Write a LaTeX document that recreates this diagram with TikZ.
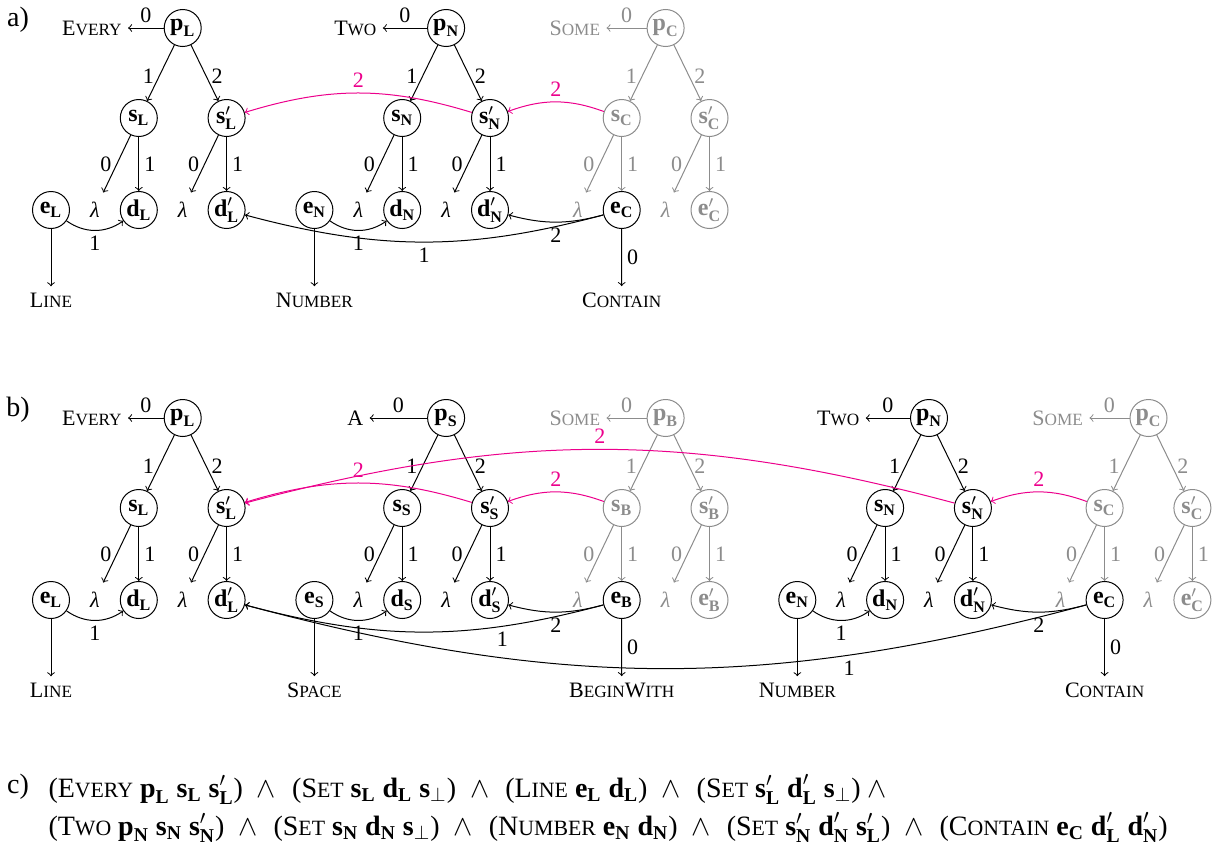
\documentclass[tikz,border=0pt]{standalone}
\usepackage{amsmath}
\usepackage{fontspec}
\setmainfont{Liberation Serif}
\definecolor{gr}{RGB}{140,140,140}
\definecolor{pk}{RGB}{236,0,140}
\newcommand\fsz{\fontsize{11}{13}\selectfont}
\newcommand\nsz{\fontsize{12}{14}\selectfont}
\newcommand\ffsz{\fontsize{14}{16}\selectfont}
\newcommand\sck[2]{#1{\fontsize{8.6}{10}\selectfont #2}}
\newcommand\scf[2]{#1{\fontsize{10.9}{12}\selectfont #2}}
\newcommand\bv[2]{$\text{\bfseries #1}_{\text{\bfseries #2}}$}
\newcommand\bvp[2]{$\text{\bfseries #1}'_{\text{\bfseries #2}}$}
\newcommand\bperp{$\text{\bfseries s}_{\perp}$}
\newcommand\lam{{\itshape λ}}
\newcommand\G{43.9}
\newcommand\andsym{\hspace{7pt}$\wedge$\hspace{8pt}}
% #1 id, #2 cx, #3 top y, #4 colour, #5 quantifier, #6 subscript, #7 leaf letter, #8 first leaf colour
\newcommand\qtree[8]{%
  \node[vnode,#4] (p#1) at (#2,#3) {\bv{p}{#6}};
  \node[txt,#4] (q#1) at ({#2-2*\G-3},#3) {#5};
  \node[vnode,#4] (s#1) at ({#2-\G},{#3+90}) {\bv{s}{#6}};
  \node[vnode,#4] (t#1) at ({#2+\G},{#3+90}) {\bvp{s}{#6}};
  \node[lam,#4] (la#1) at ({#2-2*\G},{#3+182}) {\lam};
  \node[lam,#4] (lb#1) at (#2,{#3+182}) {\lam};
  \node[vnode,#8] (d#1) at ({#2-\G},{#3+182}) {\bv{#7}{#6}};
  \node[vnode,#4] (f#1) at ({#2+\G},{#3+182}) {\bvp{#7}{#6}};
  \begin{scope}[#4]
    \draw[->] (p#1) -- node[lbl,above]{0} (q#1);
    \draw[->] (p#1) -- node[lbl,left,pos=.55]{1} (s#1);
    \draw[->] (p#1) -- node[lbl,right,pos=.55]{2} (t#1);
    \draw[->] (s#1) -- node[lbl,left]{0} (la#1);
    \draw[->] (s#1) -- node[lbl,right]{1} (d#1);
    \draw[->] (t#1) -- node[lbl,left]{0} (lb#1);
    \draw[->] (t#1) -- node[lbl,right]{1} (f#1);
  \end{scope}
}
\begin{document}
\begin{tikzpicture}[x=0.5pt, y=-0.5pt, >=to, line width=0.5pt,
  every node/.style={font=\fsz},
  vnode/.style={circle, draw, minimum size=18.5pt, inner sep=0pt, font=\nsz},
  lam/.style={minimum height=17pt, minimum width=10pt, inner sep=0pt},
  txt/.style={inner sep=3pt},
  lbl/.style={inner sep=2.5pt},
  part/.style={inner sep=0pt, font=\ffsz},
  fml/.style={inner sep=0pt, anchor=base west, font=\ffsz}]
\useasboundingbox (0,0) rectangle (1222,857);

% ---------------- a)
\node[part] (la) at (18,20) {a)};
\qtree{aL}{182.7}{28}{black}{\sck{E}{VERY}}{L}{d}{black}
\qtree{aN}{446.1}{28}{black}{\sck{T}{WO}}{N}{d}{black}
\qtree{aC}{665.6}{28}{gr}{\sck{S}{OME}}{C}{e}{black}
\node[vnode] (eaL) at (51,210) {\bv{e}{L}};
\node[vnode] (eaN) at (314.4,210) {\bv{e}{N}};
\node[txt] (waL) at (51,300) {\sck{L}{INE}};
\node[txt] (waN) at (314.4,300) {\sck{N}{UMBER}};
\node[txt] (waC) at (621.7,300) {\sck{C}{ONTAIN}};
\draw[->] (eaL) -- (waL);
\draw[->] (eaN) -- (waN);
\draw[->] (daC) -- node[lbl,right]{0} (waC);
\draw[->] (eaL) to[bend right=35] node[lbl,below]{1} (daL);
\draw[->] (eaN) to[bend right=35] node[lbl,below]{1} (daN);
\draw[->] (daC) to[bend left=15] node[lbl,below]{2} (faN);
\draw[->] (daC) to[bend left=15] node[lbl,below]{1} (faL);
\draw[->,pk] (saC) to[bend right=20] node[lbl,above]{2} (taN);
\draw[->,pk] (taN) to[bend right=17] node[lbl,above]{2} (taL);

% ---------------- b)
\node[part] (lb) at (18,410) {b)};
\qtree{bL}{182.7}{418}{black}{\sck{E}{VERY}}{L}{d}{black}
\qtree{bS}{446.1}{418}{black}{A}{S}{d}{black}
\qtree{bB}{665.6}{418}{gr}{\sck{S}{OME}}{B}{e}{black}
\qtree{bN}{929}{418}{black}{\sck{T}{WO}}{N}{d}{black}
\qtree{bC}{1148.5}{418}{gr}{\sck{S}{OME}}{C}{e}{black}
\node[vnode] (ebL) at (51,600) {\bv{e}{L}};
\node[vnode] (ebS) at (314.4,600) {\bv{e}{S}};
\node[vnode] (ebN) at (797.3,600) {\bv{e}{N}};
\node[txt] (wbL) at (51,690) {\sck{L}{INE}};
\node[txt] (wbS) at (314.4,690) {\sck{S}{PACE}};
\node[txt] (wbB) at (621.7,690) {\sck{B}{EGIN}\sck{W}{ITH}};
\node[txt] (wbN) at (797.3,690) {\sck{N}{UMBER}};
\node[txt] (wbC) at (1104.6,690) {\sck{C}{ONTAIN}};
\draw[->] (ebL) -- (wbL);
\draw[->] (ebS) -- (wbS);
\draw[->] (ebN) -- (wbN);
\draw[->] (dbB) -- node[lbl,right]{0} (wbB);
\draw[->] (dbC) -- node[lbl,right]{0} (wbC);
\draw[->] (ebL) to[bend right=35] node[lbl,below]{1} (dbL);
\draw[->] (ebS) to[bend right=35] node[lbl,below]{1} (dbS);
\draw[->] (ebN) to[bend right=35] node[lbl,below]{1} (dbN);
\draw[->] (dbB) to[bend left=15] node[lbl,below]{2} (fbS);
\draw[->] (dbB) to[bend left=15] node[lbl,below,pos=.27]{1} (fbL);
\draw[->] (dbC) to[bend left=15] node[lbl,below]{2} (fbN);
\draw[->] (dbC) to[bend left=15] node[lbl,below,pos=.27]{1} (fbL);
\draw[->,pk] (sbB) to[bend right=20] node[lbl,above]{2} (tbS);
\draw[->,pk] (tbS) to[bend right=17] node[lbl,above]{2} (tbL);
\draw[->,pk] (sbC) to[bend right=20] node[lbl,above]{2} (tbN);
\draw[->,pk] (tbN) to[bend right=15] node[lbl,above]{2} (tbL);

% ---------------- c)
\node[inner sep=0pt, anchor=base, font=\ffsz] (lc) at (18,793) {c)};
\node[fml] (fa) at (48,797) {(\scf{E}{VERY} \bv{p}{L} \bv{s}{L} \bvp{s}{L})\andsym(\scf{S}{ET} \bv{s}{L} \bv{d}{L} \bperp)\andsym(\scf{L}{INE} \bv{e}{L} \bv{d}{L})\andsym(\scf{S}{ET} \bvp{s}{L} \bvp{d}{L} \bperp) $\wedge$};
\node[fml] (fb) at (48,835) {(\scf{T}{WO} \bv{p}{N} \bv{s}{N} \bvp{s}{N})\andsym(\scf{S}{ET} \bv{s}{N} \bv{d}{N} \bperp)\andsym(\scf{N}{UMBER} \bv{e}{N} \bv{d}{N})\andsym(\scf{S}{ET} \bvp{s}{N} \bvp{d}{N} \bvp{s}{L})\andsym(\scf{C}{ONTAIN} \bv{e}{C} \bvp{d}{L} \bvp{d}{N})};
\end{tikzpicture}
\end{document}
